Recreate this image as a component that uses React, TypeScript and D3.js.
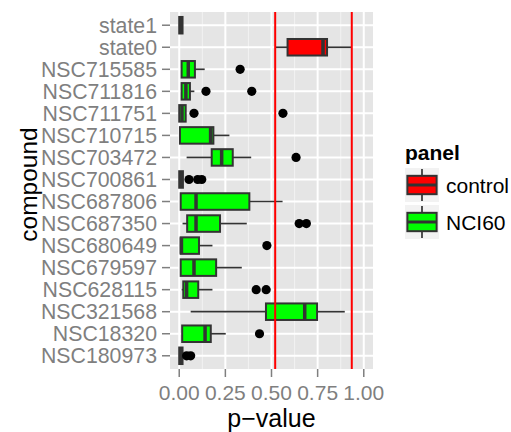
// App.tsx
import React, { useEffect, useRef } from 'react';
import * as d3 from 'd3';

// compounds, top to bottom as they appear on the y axis
const compounds = [
  'state1', 'state0', 'NSC715585', 'NSC711816', 'NSC711751', 'NSC710715',
  'NSC703472', 'NSC700861', 'NSC687806', 'NSC687350', 'NSC680649',
  'NSC679597', 'NSC628115', 'NSC321568', 'NSC18320', 'NSC180973',
];
const panels = [
  'control', 'control', 'NCI60', 'NCI60', 'NCI60', 'NCI60', 'NCI60', 'NCI60',
  'NCI60', 'NCI60', 'NCI60', 'NCI60', 'NCI60', 'NCI60', 'NCI60', 'NCI60',
];
const whiskerLow = [0.0, 0.52, 0.013, 0.013, 0.0, 0.004, 0.04, 0.0, 0.008, 0.018, 0.008, 0.008, 0.013, 0.062, 0.016, 0.0];
const q1 = [0.0, 0.587, 0.013, 0.013, 0.0, 0.004, 0.176, 0.0, 0.008, 0.043, 0.008, 0.008, 0.022, 0.47, 0.016, 0.0];
const median = [0.008, 0.779, 0.049, 0.036, 0.015, 0.17, 0.23, 0.008, 0.091, 0.091, 0.012, 0.08, 0.04, 0.68, 0.14, 0.008];
const q3 = [0.018, 0.801, 0.085, 0.058, 0.035, 0.185, 0.29, 0.02, 0.38, 0.221, 0.107, 0.2, 0.103, 0.747, 0.171, 0.018];
const whiskerHigh = [0.018, 0.933, 0.138, 0.082, 0.035, 0.272, 0.39, 0.02, 0.56, 0.366, 0.18, 0.339, 0.18, 0.897, 0.252, 0.018];
const outliers = [
  [], [], [0.33], [0.145, 0.393], [0.08, 0.562], [], [0.633], [0.053, 0.1, 0.122],
  [], [0.65, 0.689], [0.475], [], [0.417, 0.471], [], [0.435], [0.04, 0.062],
];
const vlines = [0.52, 0.935];
const xTicks = [0, 0.25, 0.5, 0.75, 1];
const xMinor = [0.125, 0.375, 0.625, 0.875];
const legendLabels = ['control', 'NCI60'];

const colors: Record<string, string> = { control: '#FF0000', NCI60: '#00FF00' };
const FONT = '"Liberation Sans", Arial, Helvetica, sans-serif';

const App = () => {
  const svgRef = useRef<SVGSVGElement>(null);

  useEffect(() => {
    const svg = d3.select(svgRef.current);
    svg.selectAll('*').remove();

    const panel = { left: 170, right: 373, top: 12, bottom: 369 };

    const x = d3.scaleLinear().domain([-0.05, 1.05]).range([panel.left, panel.right]);
    const y = d3.scalePoint<string>().domain(compounds).range([panel.top, panel.bottom]).padding(0.6);
    const boxH = y.step() * 0.75;

    // panel background + grid
    svg.append('rect')
      .attr('x', panel.left).attr('y', panel.top)
      .attr('width', panel.right - panel.left).attr('height', panel.bottom - panel.top)
      .attr('fill', '#E5E5E5');

    svg.selectAll('.minor').data(xMinor).enter().append('line')
      .attr('x1', (d) => x(d)).attr('x2', (d) => x(d))
      .attr('y1', panel.top).attr('y2', panel.bottom)
      .attr('stroke', '#F2F2F2').attr('stroke-width', 1);

    svg.selectAll('.major-x').data(xTicks).enter().append('line')
      .attr('x1', (d) => x(d)).attr('x2', (d) => x(d))
      .attr('y1', panel.top).attr('y2', panel.bottom)
      .attr('stroke', '#FFFFFF').attr('stroke-width', 2);

    svg.selectAll('.major-y').data(compounds).enter().append('line')
      .attr('x1', panel.left).attr('x2', panel.right)
      .attr('y1', (d) => y(d)!).attr('y2', (d) => y(d)!)
      .attr('stroke', '#FFFFFF').attr('stroke-width', 2);

    // boxplots
    const g = svg.append('g');
    compounds.forEach((c, i) => {
      const cy = y(c)!;
      g.append('line')
        .attr('x1', x(whiskerLow[i])).attr('x2', x(q1[i]))
        .attr('y1', cy).attr('y2', cy)
        .attr('stroke', '#333333').attr('stroke-width', 1.7);
      g.append('line')
        .attr('x1', x(q3[i])).attr('x2', x(whiskerHigh[i]))
        .attr('y1', cy).attr('y2', cy)
        .attr('stroke', '#333333').attr('stroke-width', 1.7);
      g.append('rect')
        .attr('x', x(q1[i])).attr('y', cy - boxH / 2)
        .attr('width', Math.max(x(q3[i]) - x(q1[i]), 1)).attr('height', boxH)
        .attr('fill', colors[panels[i]])
        .attr('stroke', '#333333').attr('stroke-width', 2);
      g.append('line')
        .attr('x1', x(median[i])).attr('x2', x(median[i]))
        .attr('y1', cy - boxH / 2).attr('y2', cy + boxH / 2)
        .attr('stroke', '#333333').attr('stroke-width', 3.5);
      g.selectAll(null).data(outliers[i]).enter().append('circle')
        .attr('cx', (d) => x(d)).attr('cy', cy).attr('r', 4.6)
        .attr('fill', '#000000');
    });

    // reference lines
    svg.selectAll('.vline').data(vlines).enter().append('line')
      .attr('x1', (d) => x(d)).attr('x2', (d) => x(d))
      .attr('y1', panel.top).attr('y2', panel.bottom)
      .attr('stroke', '#FF0000').attr('stroke-width', 2);

    // y axis
    compounds.forEach((c) => {
      svg.append('line')
        .attr('x1', panel.left - 8).attr('x2', panel.left)
        .attr('y1', y(c)!).attr('y2', y(c)!)
        .attr('stroke', '#7F7F7F').attr('stroke-width', 1.5);
      svg.append('text')
        .attr('x', panel.left - 13).attr('y', y(c)!)
        .attr('dy', '0.36em')
        .attr('text-anchor', 'end')
        .attr('font-family', FONT).attr('font-size', 21.3)
        .attr('fill', '#7F7F7F')
        .text(c);
    });

    // x axis
    xTicks.forEach((t) => {
      svg.append('line')
        .attr('x1', x(t)).attr('x2', x(t))
        .attr('y1', panel.bottom).attr('y2', panel.bottom + 8)
        .attr('stroke', '#7F7F7F').attr('stroke-width', 1.5);
      svg.append('text')
        .attr('x', x(t)).attr('y', 399.5)
        .attr('text-anchor', 'middle')
        .attr('font-family', FONT).attr('font-size', 21)
        .attr('fill', '#7F7F7F')
        .text(d3.format('.2f')(t));
    });

    svg.append('text')
      .attr('x', (panel.left + panel.right) / 2).attr('y', 427)
      .attr('text-anchor', 'middle')
      .attr('font-family', FONT).attr('font-size', 25)
      .text('p\u2212value');

    svg.append('text')
      .attr('transform', `translate(37,${(panel.top + panel.bottom) / 2 - 6}) rotate(-90)`)
      .attr('text-anchor', 'middle')
      .attr('font-family', FONT).attr('font-size', 24.5)
      .text('compound');

    // legend
    const lg = svg.append('g').attr('transform', 'translate(405,0)');
    lg.append('text')
      .attr('x', 0).attr('y', 159.5)
      .attr('font-family', FONT).attr('font-size', 21).attr('font-weight', 'bold')
      .text('panel');
    const keySize = 34;
    legendLabels.forEach((lab, i) => {
      const ky = 168 + i * 37;
      const k = lg.append('g').attr('transform', `translate(0,${ky})`);
      k.append('rect').attr('width', keySize).attr('height', keySize).attr('fill', '#F2F2F2');
      k.append('line')
        .attr('x1', keySize / 2).attr('x2', keySize / 2)
        .attr('y1', keySize * 0.03).attr('y2', keySize * 0.97)
        .attr('stroke', '#333333').attr('stroke-width', 1.7);
      k.append('rect')
        .attr('x', keySize * 0.07).attr('y', keySize * 0.23)
        .attr('width', keySize * 0.86).attr('height', keySize * 0.54)
        .attr('fill', colors[lab]).attr('stroke', '#333333').attr('stroke-width', 2);
      k.append('line')
        .attr('x1', keySize * 0.07).attr('x2', keySize * 0.93)
        .attr('y1', keySize / 2).attr('y2', keySize / 2)
        .attr('stroke', '#333333').attr('stroke-width', 3);
      lg.append('text')
        .attr('x', keySize + 7).attr('y', ky + keySize / 2)
        .attr('dy', '0.36em')
        .attr('font-family', FONT).attr('font-size', 21)
        .text(lab);
    });
  }, []);

  return (
    <svg
      ref={svgRef}
      width={511}
      height={432}
      style={{ position: 'absolute', left: 0, top: 0, background: 'white' }}
    />
  );
};

export default App;
